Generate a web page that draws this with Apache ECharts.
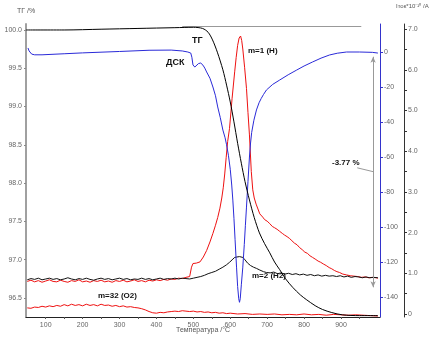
<!DOCTYPE html>
<html><head><meta charset="utf-8">
<script src="https://cdn.jsdelivr.net/npm/echarts@6/dist/echarts.min.js"></script>
<style>html,body{margin:0;padding:0;background:#fff}#c{width:432px;height:340px}</style>
</head><body><div id="c"></div>
<script>
// Temperature / °C, TG / %
var tgData = [[47,100.0],[150,100.0],[250,100.01],[350,100.02],[450,100.03],[500,100.035],[525,100.02],[540,99.97],[552,99.87],[565,99.71],[580,99.48],[590,99.28],[600,99.06],[610,98.80],[620,98.52],[630,98.26],[640,98.02],[652,97.78],[665,97.55],[679,97.35],[693,97.21],[707,97.09],[720,96.97],[734,96.87],[750,96.75],[769,96.64],[790,96.54],[806,96.48],[830,96.40],[850,96.35],[875,96.31],[904,96.28],[950,96.27],[1000,96.27]];
// DSC
var dscData = [[52,2.3],[55,0.6],[58,-0.4],[62,-1.2],[70,-1.6],[90,-1.6],[150,-1.0],[200,-0.5],[300,0.3],[380,1.0],[440,1.1],[470,0.6],[485,0],[493,-0.6],[496,-3],[499,-7.4],[504,-8.6],[509,-8.0],[514,-6.6],[520,-6.3],[526,-7.5],[531,-9.2],[536,-11.4],[545,-15],[553,-20],[560,-25],[566,-31.4],[573,-37.5],[580,-44.6],[586,-49],[590,-53],[595,-59],[600,-67],[604,-76],[607,-84.6],[610,-95],[613,-107],[617,-122.9],[620,-134],[623,-141],[625,-143],[627,-141],[630,-133],[634,-122.9],[638,-110],[641,-99],[644,-88.6],[648,-74],[652,-60],[655,-52],[658,-46],[664,-39],[671,-33.1],[678,-29],[684,-26.5],[690,-24.3],[698,-21.7],[715,-18.5],[734,-16],[757,-13],[780,-10.3],[800,-8],[823,-5.7],[846,-3.5],[869,-1.7],[890,-0.7],[915,0],[950,0],[985,-0.2],[1000,-0.6]];
// m=1 (H)
var m1Data = [[50,0.80],[60,0.83],[70,0.79],[80,0.82],[90,0.78],[100,0.81],[110,0.84],[120,0.80],[130,0.79],[140,0.83],[150,0.80],[160,0.78],[170,0.82],[180,0.80],[190,0.84],[200,0.79],[210,0.81],[220,0.78],[230,0.82],[240,0.80],[250,0.83],[260,0.79],[270,0.81],[280,0.78],[290,0.82],[300,0.80],[310,0.83],[320,0.79],[330,0.81],[340,0.84],[350,0.80],[360,0.82],[370,0.79],[380,0.83],[390,0.81],[400,0.84],[410,0.82],[420,0.85],[430,0.83],[440,0.86],[450,0.85],[460,0.88],[470,0.87],[480,0.90],[490,0.92],[495,1.15],[499,1.24],[508,1.25],[518,1.28],[527,1.40],[536,1.56],[545,1.77],[553,1.98],[560,2.18],[566,2.37],[572,2.60],[577,2.85],[581,3.10],[585,3.44],[589,3.85],[593,4.24],[598,4.56],[605,5.30],[612,5.95],[616,6.30],[620,6.60],[624,6.78],[628,6.83],[631,6.72],[634,6.51],[639,6.05],[644,5.54],[648,4.95],[652,4.40],[657,3.50],[661,3.05],[665,2.85],[670,2.70],[675,2.58],[680,2.46],[688,2.38],[693,2.32],[700,2.28],[707,2.22],[714,2.15],[720,2.12],[727,2.08],[734,2.03],[741,1.98],[747,1.94],[754,1.90],[760,1.86],[767,1.80],[774,1.74],[781,1.70],[788,1.63],[795,1.58],[802,1.52],[809,1.49],[816,1.43],[823,1.39],[830,1.35],[838,1.30],[845,1.27],[852,1.23],[860,1.19],[868,1.14],[875,1.11],[882,1.07],[889,1.04],[896,1.02],[905,0.98],[915,0.96],[925,0.94],[935,0.93],[945,0.92],[955,0.90],[965,0.91],[975,0.89],[985,0.90],[995,0.89],[1000,0.88]];
// m=2 (H2)
var m2Data = [[50,0.84],[60,0.87],[70,0.85],[80,0.88],[90,0.84],[100,0.86],[110,0.88],[120,0.85],[130,0.87],[140,0.84],[150,0.86],[160,0.89],[170,0.86],[180,0.84],[190,0.87],[200,0.85],[210,0.88],[220,0.85],[230,0.83],[240,0.86],[250,0.88],[260,0.85],[270,0.87],[280,0.84],[290,0.86],[300,0.88],[310,0.85],[320,0.87],[330,0.84],[340,0.86],[350,0.85],[360,0.88],[370,0.85],[380,0.87],[390,0.84],[400,0.86],[410,0.88],[420,0.85],[430,0.87],[440,0.86],[450,0.88],[460,0.86],[470,0.88],[480,0.87],[490,0.86],[500,0.88],[510,0.90],[520,0.92],[530,0.95],[540,0.99],[550,1.02],[560,1.05],[570,1.10],[580,1.15],[590,1.21],[598,1.27],[605,1.33],[612,1.39],[618,1.40],[625,1.41],[630,1.40],[634,1.39],[640,1.33],[647,1.25],[655,1.19],[663,1.15],[671,1.12],[680,1.08],[690,1.04],[698,1.02],[708,1.01],[718,1.03],[728,0.99],[738,1.01],[748,0.98],[758,1.00],[768,0.97],[778,0.99],[788,0.96],[798,0.98],[808,0.95],[818,0.97],[828,0.94],[838,0.96],[848,0.93],[858,0.95],[868,0.93],[878,0.94],[888,0.92],[898,0.94],[908,0.91],[918,0.93],[928,0.90],[938,0.92],[948,0.91],[958,0.89],[968,0.91],[978,0.89],[988,0.90],[1000,0.89]];
// m=32 (O2)
var m32Data = [[50,0.15],[60,0.14],[70,0.17],[80,0.16],[90,0.19],[100,0.17],[110,0.20],[120,0.18],[130,0.21],[140,0.19],[150,0.23],[160,0.20],[170,0.24],[180,0.21],[190,0.23],[200,0.20],[210,0.24],[220,0.21],[230,0.23],[240,0.20],[250,0.24],[260,0.21],[270,0.22],[280,0.19],[290,0.21],[300,0.18],[310,0.20],[320,0.17],[330,0.18],[340,0.16],[350,0.15],[360,0.13],[370,0.10],[380,0.06],[390,0.03],[400,0.02],[410,0.04],[420,0.03],[430,0.05],[440,0.06],[450,0.07],[460,0.06],[470,0.08],[480,0.07],[490,0.06],[500,0.07],[510,0.05],[520,0.06],[530,0.04],[540,0.05],[550,0.03],[560,0.04],[570,0.02],[580,0.03],[590,0.01],[600,0.02],[620,0.00],[640,0.01],[660,-0.01],[680,0.00],[700,-0.01],[720,0.00],[740,-0.02],[760,-0.01],[780,-0.02],[800,0.00],[820,-0.02],[840,-0.01],[860,-0.03],[880,-0.01],[900,-0.02],[920,-0.03],[940,-0.02],[960,-0.03],[980,-0.04],[1000,-0.05]];
// tick labels
var xTicks = [100,200,300,400,500,600,700,800,900];
var xMinor = [100,150,200,250,300,350,400,450,500,550,600,650,700,750,800,850,900,950];
var tgTicks = [96.5,97.0,97.5,98.0,98.5,99.0,99.5,100.0];
var dscTicks = [0,-20,-40,-60,-80,-100,-120,-140];
var ionTicks = [0,1,2,3,4,5,6,7];
var ionMinor = [0,0.5,1,1.5,2,2.5,3,3.5,4,4.5,5,5.5,6,6.5,7];
var lossText = '-3.77 %';

var FONT = '"Liberation Sans", Arial, sans-serif';
var chart = echarts.init(document.getElementById('c'), null, {renderer:'canvas'});
var lblStyle = {fontSize:7, color:'#666', fontFamily:FONT};
chart.setOption({
  animation:false,
  backgroundColor:'#fff',
  grid:{left:26, right:52, top:24, bottom:23},
  xAxis:{type:'value', min:46.6, max:1005.7,
    axisLine:{show:true, onZero:false, lineStyle:{color:'#222', width:1}},
    axisTick:{show:true, length:2, customValues:xMinor, lineStyle:{color:'#555'}},
    axisLabel:Object.assign({customValues:xTicks, margin:5}, lblStyle),
    splitLine:{show:false}},
  yAxis:[
    {type:'value', position:'left', min:96.252, max:100.078,
      axisLine:{show:true, onZero:false, lineStyle:{color:'#a0a0a0', width:2}},
      axisTick:{show:true, length:2, customValues:tgTicks, lineStyle:{color:'#888'}},
      axisLabel:Object.assign({customValues:tgTicks, margin:4, formatter:function(v){return v.toFixed(1);}}, lblStyle),
      splitLine:{show:false}},
    {type:'value', position:'right', min:-151.4, max:16,
      axisLine:{show:true, onZero:false, lineStyle:{color:'#3333cc', width:1}},
      axisTick:{show:true, length:3, customValues:dscTicks, lineStyle:{color:'#3333cc'}},
      axisLabel:Object.assign({customValues:dscTicks, margin:4, formatter:function(v){return String(v);}}, lblStyle),
      splitLine:{show:false}},
    {type:'value', position:'right', offset:24, min:-0.074, max:7.125,
      axisLine:{show:true, onZero:false, lineStyle:{color:'#333', width:1}},
      axisTick:{show:true, length:3, customValues:ionMinor, lineStyle:{color:'#333'}},
      axisLabel:Object.assign({customValues:ionTicks, margin:4, formatter:function(v){return v===0?'0':v.toFixed(1);}}, lblStyle),
      splitLine:{show:false}}
  ],
  series:[
    {type:'line', name:'ТГ', yAxisIndex:0, data:tgData, showSymbol:false, smooth:0.3, z:5,
      lineStyle:{color:'#000', width:1},
      markLine:{silent:true, symbol:['none','none'], label:{show:false},
        lineStyle:{color:'#999', width:1, type:'solid'},
        data:[
          [{coord:[470,100.045]},{coord:[955,100.045]}],
          [{coord:[944,98.2], symbol:'none'},{coord:[987,98.15], symbol:'none'}],
          [{coord:[987,99.65], symbol:'arrow', symbolSize:[4,6]},{coord:[987,96.64], symbol:'arrow', symbolSize:[4,6]}]
        ]}},
    {type:'line', name:'ДСК', yAxisIndex:1, data:dscData, showSymbol:false, smooth:false, z:4,
      lineStyle:{color:'#2a2ad8', width:1}},
    {type:'line', name:'m=1 (H)', yAxisIndex:2, data:m1Data, showSymbol:false, z:3,
      lineStyle:{color:'#ee1111', width:1}},
    {type:'line', name:'m=2 (H2)', yAxisIndex:2, data:m2Data, showSymbol:false, z:3,
      lineStyle:{color:'#111', width:1}},
    {type:'line', name:'m=32 (O2)', yAxisIndex:2, data:m32Data, showSymbol:false, z:3,
      lineStyle:{color:'#ee1111', width:1}}
  ],
  graphic:[
    {type:'text', left:17, top:8, style:{text:'ТГ /%', fontSize:7, fill:'#555', fontFamily:FONT}},
    {type:'text', left:396, top:3, style:{text:'Iток*10⁻¹⁰ /A', fontSize:6, fill:'#555', fontFamily:FONT}},
    {type:'text', left:176, top:327, style:{text:'Температура /°C', fontSize:7, fill:'#555', fontFamily:FONT}},
    {type:'text', left:192, top:36, style:{text:'ТГ', fontSize:9, fontWeight:'bold', fill:'#111', fontFamily:FONT}},
    {type:'text', left:166, top:58, style:{text:'ДСК', fontSize:9, fontWeight:'bold', fill:'#111', fontFamily:FONT}},
    {type:'text', left:248, top:47, style:{text:'m=1 (H)', fontSize:8, fontWeight:'bold', fill:'#111', fontFamily:FONT}},
    {type:'text', left:252, top:272, style:{text:'m=2 (H2)', fontSize:8, fontWeight:'bold', fill:'#111', fontFamily:FONT}},
    {type:'text', left:98, top:292, style:{text:'m=32 (O2)', fontSize:8, fontWeight:'bold', fill:'#111', fontFamily:FONT}},
    {type:'text', left:332, top:159, style:{text:lossText, fontSize:8, fontWeight:'bold', fill:'#111', fontFamily:FONT}}
  ]
});
</script></body></html>
